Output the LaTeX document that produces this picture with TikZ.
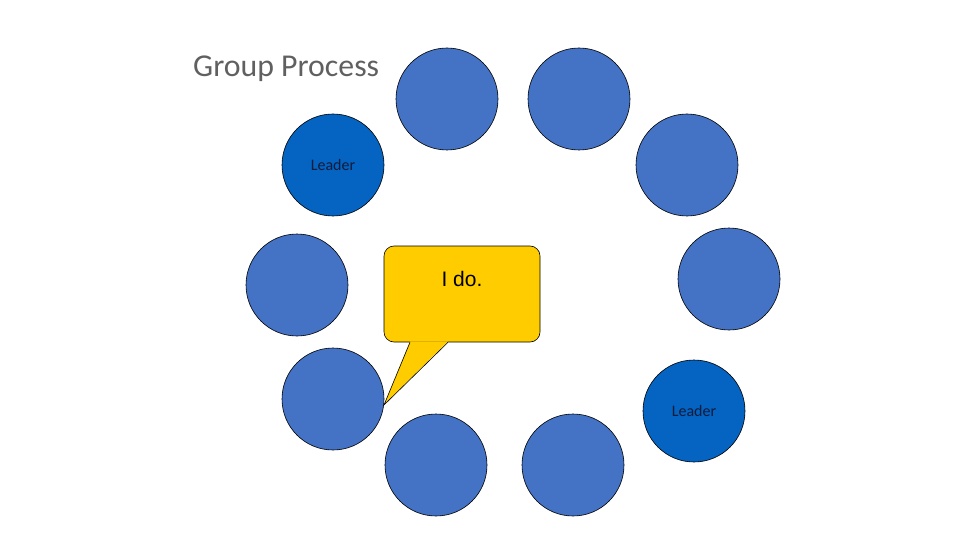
\documentclass[tikz,border=0pt]{standalone}
\usepackage{fontspec}
\setmainfont{Carlito}
\newfontfamily\arialfont{Liberation Sans}
\usetikzlibrary{positioning}
\definecolor{membercol}{RGB}{68,114,196}
\definecolor{leadercol}{RGB}{5,99,193}
\definecolor{bubblecol}{RGB}{255,204,0}
\definecolor{titlecol}{RGB}{96,96,96}
\definecolor{leadtext}{RGB}{14,28,60}
\tikzset{member/.style={circle, draw=black, fill=membercol, line width=0.6pt,
           minimum size=102pt, inner sep=0pt},
         leader/.style={member, fill=leadercol, text=leadtext,
           font=\fontsize{16}{18}\selectfont},
         bubble/.style={draw=black, fill=bubblecol, line width=0.6pt}}

\begin{document}
\begin{tikzpicture}[x=1pt,y=-1pt]
   \useasboundingbox (0,0) rectangle (960,540);
   \node (title) [anchor=base west, text=titlecol, inner sep=0pt,
     font=\fontsize{31.8}{36}\selectfont] at (193,77) {Group Process};
   % the circle of members
   \foreach \name/\pos in {top1/{(447,99)}, top2/{(579,99)}, right1/{(687,165)},
       right2/{(729,279)}, bot2/{(573,465)}, bot1/{(436,465)},
       left2/{(333,399)}, left1/{(297,285)}}
     \node (\name) [member] at \pos {};
   \node (lead1) [leader] at (333,165) {Leader};
   \node (lead2) [leader] at (694,411) {Leader};
   % speech bubble
   \node (bubble) [bubble, rounded corners=10pt, minimum width=156pt,
     minimum height=96pt] at (462,294) {};
   \coordinate (tip) at (384,405);
   \fill[bubblecol] ([xshift=-52pt,yshift=1pt]bubble.south) -- (tip)
     -- ([xshift=-14pt,yshift=1pt]bubble.south) -- cycle;
   \draw[bubble, fill=none] ([xshift=-52pt]bubble.south) -- (tip)
     -- ([xshift=-14pt]bubble.south);
   \node (reply) [below=22pt of bubble.north, font=\arialfont\fontsize{21}{24}\selectfont]
     {I do.};
\end{tikzpicture}
\end{document}
